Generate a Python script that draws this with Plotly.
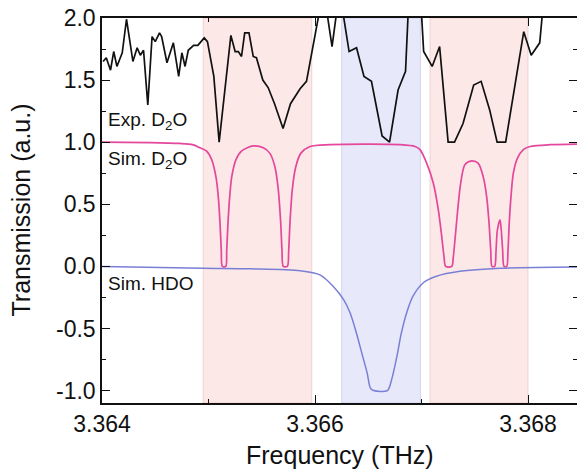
import plotly.graph_objects as go

# ---- data (frequency in THz, transmission in a.u.) ----
exp_f = [3.36401, 3.36404, 3.36408, 3.36411, 3.36414, 3.36419, 3.36423, 3.36429, 3.36433, 3.36436,
         3.36439, 3.36443, 3.36447, 3.36450, 3.36454, 3.36456, 3.36461, 3.36464, 3.36467, 3.36472,
         3.36475, 3.36478, 3.36481, 3.36486, 3.36490, 3.36496, 3.36499, 3.36505, 3.36510, 3.36521,
         3.36525, 3.36528, 3.36531, 3.36534, 3.36538, 3.36542, 3.36545, 3.36551, 3.36556, 3.36562,
         3.36570, 3.36577, 3.36583, 3.36586, 3.36592, 3.36608, 3.36616, 3.36623, 3.36632, 3.36639,
         3.36646, 3.36653, 3.36663, 3.36670, 3.36678, 3.36685, 3.36693, 3.36702, 3.36710, 3.36717,
         3.36725, 3.36731, 3.36739, 3.36749, 3.36756, 3.36764, 3.36771, 3.36779, 3.36796, 3.36803,
         3.36811, 3.36816, 3.36847]
exp_t = [1.65, 1.68, 1.58, 1.73, 1.61, 1.72, 1.99, 1.65, 1.76, 1.70,
         1.74, 1.30, 1.85, 1.81, 1.88, 1.85, 1.64, 1.72, 1.80, 1.53,
         1.72, 1.61, 1.74, 1.78, 1.78, 1.84, 1.81, 1.53, 1.00, 1.86,
         1.73, 1.73, 1.69, 1.88, 1.88, 1.69, 1.68, 1.50, 1.44, 1.31,
         1.11, 1.31, 1.39, 1.43, 1.49, 2.23, 1.77, 2.22, 1.73, 1.76,
         1.53, 1.49, 1.05, 1.00, 1.42, 1.57, 3.10, 1.73, 1.61, 1.77,
         1.00, 1.00, 1.15, 1.46, 1.49, 1.26, 1.00, 1.00, 1.89, 1.70,
         1.80, 2.27, 2.40]

d2o_f = [3.36400, 3.36445, 3.36473, 3.36485, 3.36492, 3.36498, 3.36503, 3.36507, 3.365092, 3.365108,
         3.36512, 3.36513, 3.365162, 3.365171, 3.365183, 3.365199, 3.365218, 3.365258, 3.365312, 3.365421,
         3.365515, 3.365577, 3.365624, 3.365655, 3.365678, 3.36569, 3.365702, 3.36574, 3.365753, 3.365765,
         3.365787, 3.365819, 3.365866, 3.365953, 3.366141, 3.366516, 3.366798, 3.366939, 3.366986, 3.367049,
         3.367111, 3.367158, 3.36719, 3.367211, 3.367227, 3.367284, 3.367299, 3.367317, 3.36734, 3.367368,
         3.367408, 3.367471, 3.367533, 3.36758, 3.367612, 3.367634, 3.36765, 3.367662, 3.367687, 3.3677,
         3.367712, 3.367737, 3.367749, 3.367762, 3.367775, 3.3678, 3.367812, 3.367824, 3.36784, 3.367862,
         3.3679, 3.367956, 3.368019, 3.368207, 3.36846]
d2o_t = [1.0, 0.997, 0.99, 0.98, 0.955, 0.93, 0.86, 0.72, 0.56, 0.35,
         0.13, 0.0, 0.0, 0.13, 0.35, 0.56, 0.72, 0.86, 0.93, 0.97,
         0.955, 0.91, 0.80, 0.62, 0.35, 0.13, 0.0, 0.0, 0.13, 0.35,
         0.62, 0.80, 0.91, 0.965, 0.98, 0.985, 0.98, 0.965, 0.94, 0.83,
         0.67, 0.455, 0.24, 0.08, 0.0, 0.0, 0.08, 0.24, 0.455, 0.67,
         0.82, 0.85, 0.83, 0.72, 0.56, 0.35, 0.13, 0.0, 0.0, 0.13,
         0.29, 0.375, 0.29, 0.13, 0.0, 0.0, 0.13, 0.35, 0.56, 0.75,
         0.87, 0.94, 0.965, 0.98, 0.985]

hdo_f = [3.36400, 3.36495, 3.36539, 3.36586, 3.36605, 3.36617, 3.36627, 3.36633, 3.36639, 3.36644,
         3.36649, 3.36652, 3.36655, 3.36668, 3.36672, 3.36677, 3.36681, 3.36686, 3.36692, 3.36702,
         3.36714, 3.36736, 3.36774, 3.36846]
hdo_t = [0.0, -0.015, -0.02, -0.035, -0.07, -0.16, -0.27, -0.375, -0.54, -0.70,
         -0.86, -0.98, -1.0, -1.0, -0.91, -0.72, -0.54, -0.375, -0.24, -0.13,
         -0.08, -0.04, -0.015, -0.005]

pink_bands = [(3.36495, 3.36597), (3.36708, 3.36800)]
blue_bands = [(3.36625, 3.36699)]

x_ticks = [3.364, 3.366, 3.368]
x_ticklabels = ["3.364", "3.366", "3.368"]
y_ticks = [-1.0, -0.5, 0.0, 0.5, 1.0, 1.5, 2.0]
y_ticklabels = ["-1.0", "-0.5", "0.0", "0.5", "1.0", "1.5", "2.0"]

labels = [("Exp. D<sub>2</sub>O", 3.36404, 1.17),
          ("Sim. D<sub>2</sub>O", 3.36404, 0.86),
          ("Sim. HDO", 3.36404, -0.14)]

FONT = "Arial, Liberation Sans, sans-serif"
INK = "#111111"

fig = go.Figure()
fig.add_trace(go.Scatter(x=exp_f, y=exp_t, mode="lines",
                         line=dict(color=INK, width=1.7), showlegend=False))
fig.add_trace(go.Scatter(x=d2o_f, y=d2o_t, mode="lines",
                         line=dict(color="#e4479b", width=1.7, shape="spline", smoothing=0.8),
                         showlegend=False))
fig.add_trace(go.Scatter(x=hdo_f, y=hdo_t, mode="lines",
                         line=dict(color="#7a7fd6", width=1.5, shape="spline", smoothing=0.8),
                         showlegend=False))

for x0, x1 in pink_bands:
    fig.add_shape(type="rect", xref="x", yref="paper", x0=x0, x1=x1, y0=0, y1=1,
                  fillcolor="rgba(250,200,200,0.42)",
                  line=dict(color="rgba(225,170,170,0.45)", width=1), layer="below")
for x0, x1 in blue_bands:
    fig.add_shape(type="rect", xref="x", yref="paper", x0=x0, x1=x1, y0=0, y1=1,
                  fillcolor="rgba(195,200,242,0.40)",
                  line=dict(color="rgba(170,175,225,0.45)", width=1), layer="below")

for text, x, y in labels:
    fig.add_annotation(x=x, y=y, xref="x", yref="y", text=text, showarrow=False,
                       xanchor="left", yanchor="middle",
                       font=dict(family=FONT, size=19, color=INK))

# axis titles as paper-positioned annotations
fig.add_annotation(text="Frequency (THz)", xref="paper", yref="paper", x=0.5, y=-52/385,
                   xanchor="center", yanchor="middle", showarrow=False,
                   font=dict(family=FONT, size=25, color=INK))
fig.add_annotation(text="Transmission (a.u.)", xref="paper", yref="paper", x=-82/475, y=0.5,
                   xanchor="center", yanchor="middle", showarrow=False, textangle=-90,
                   font=dict(family=FONT, size=25, color=INK))

axis_common = dict(showline=True, linecolor=INK, linewidth=1.5, mirror="ticks",
                   ticks="inside", ticklen=8, tickwidth=1.3, tickcolor=INK,
                   showgrid=False, zeroline=False, automargin=False,
                   tickfont=dict(family=FONT, size=23, color=INK))

fig.update_xaxes(range=[3.364, 3.36846], tickvals=x_ticks, ticktext=x_ticklabels,
                 minor=dict(ticks="inside", ticklen=4, tickwidth=1.2, tickcolor=INK,
                            dtick=0.001, tick0=3.364, showgrid=False),
                 **axis_common)
fig.update_yaxes(range=[-1.1, 2.0], tickvals=y_ticks, ticktext=y_ticklabels,
                 minor=dict(ticks="inside", ticklen=4, tickwidth=1.2, tickcolor=INK,
                            dtick=0.25, tick0=0, showgrid=False),
                 **axis_common)

fig.update_layout(width=577, height=475, margin=dict(l=102, r=0, t=18, b=72),
                  plot_bgcolor="white", paper_bgcolor="white",
                  font=dict(family=FONT, color=INK))

fig.write_html("out.html", config={"displayModeBar": False},
               post_script="document.body.style.margin='0';document.body.style.overflow='hidden';")
